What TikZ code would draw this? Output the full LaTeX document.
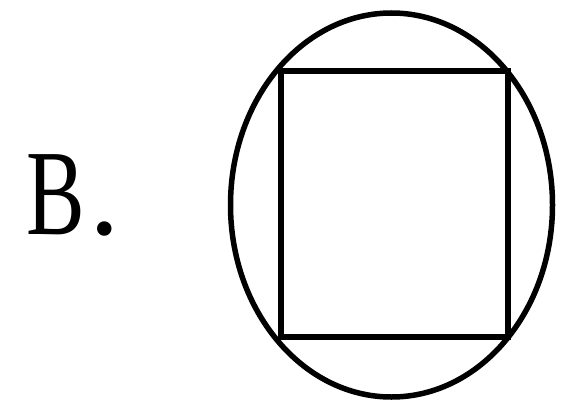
\documentclass[tikz,border=0pt]{standalone}
\usepackage{fontspec}
\setmainfont{Liberation Serif}
\begin{document}
\begin{tikzpicture}[x=1pt,y=-1pt,
  shapeline/.style={line width=5.5pt,black},
  lbl/.style={inner sep=0pt,anchor=base west,font=\fontsize{122}{124}\selectfont}]
\useasboundingbox[fill=white] (0,0) rectangle (564,404);
\node[lbl] (label) at (26,234) {\scalebox{0.72}[1]{B}\hspace{5pt}.};
\draw[shapeline] (391.5,205) ellipse [x radius=161,y radius=192];
\coordinate (tl) at (281,71);
\coordinate (br) at (508,337);
\draw[shapeline] (tl) rectangle (br);
\end{tikzpicture}
\end{document}
